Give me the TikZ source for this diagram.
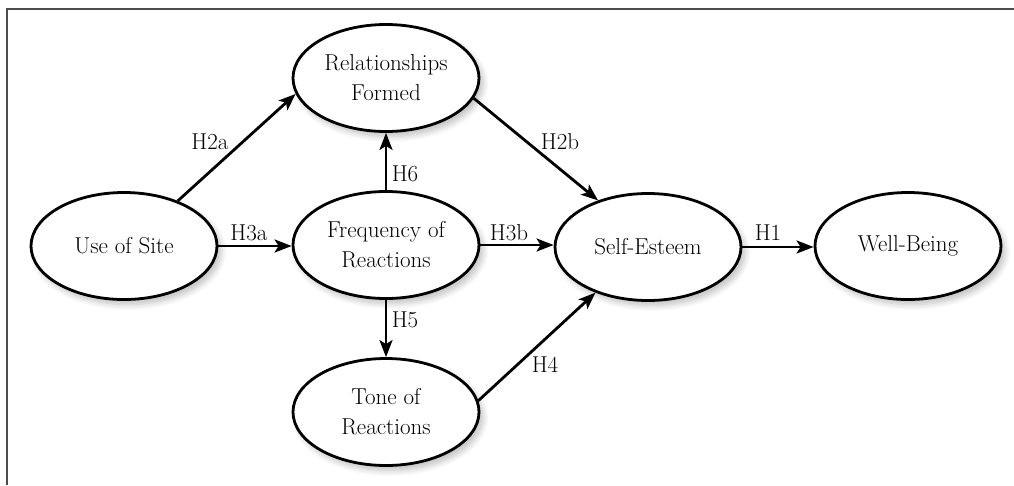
\documentclass[tikz,border=0pt]{standalone}
\usetikzlibrary{shapes.geometric,arrows.meta,shadows.blur}
\begin{document}
\begin{tikzpicture}[x=1pt,y=-1pt,
  construct/.style={ellipse,draw=black,line width=2.8pt,fill=white,
    minimum width=186pt,minimum height=107pt,inner sep=0pt,align=center,
    font=\fontsize{23}{30}\selectfont,
    blur shadow={shadow xshift=4pt,shadow yshift=-5pt,shadow blur steps=8,shadow blur radius=6pt,shadow opacity=25}},
  path/.style={line width=2.8pt,-{Stealth[length=17pt,width=13pt,inset=4pt]}},
  hlabel/.style={font=\fontsize{23}{26}\selectfont,inner sep=0pt}]
\useasboundingbox (0,0) rectangle (1014,485);
\draw[line width=2pt,black!70] (7,485) -- (7,9) -- (1014,9);

\node[construct] (use)  at (124,246) {Use of Site};
\node[construct] (rel)  at (386,78)  {Relationships\\Formed};
\node[construct] (freq) at (386,245) {Frequency of\\Reactions};
\node[construct] (tone) at (386,412) {Tone of\\Reactions};
\node[construct] (se)   at (648,247) {Self-Esteem};
\node[construct] (wb)   at (908,246) {Well-Being};

\draw[path] (use.40) -- (rel.190);
\draw[path] (freq.north) -- (rel.south);
\draw[path] (use.east) -- (use.east -| freq.west);
\draw[path] (freq.east) -- (freq.east -| se.west);
\draw[path] (se.east) -- (se.east -| wb.west);
\draw[path] (freq.south) -- (tone.north);
\draw[path] (rel.-13) -- (se.137);
\draw[path] (tone.7) -- (se.221);

\node[hlabel] (l2a) at (210,142) {H2a};
\node[hlabel] (l6)  at (405,174) {H6};
\node[hlabel] (l3a) at (249,233) {H3a};
\node[hlabel] (l3b) at (509,233) {H3b};
\node[hlabel] (l1)  at (768,233) {H1};
\node[hlabel] (l5)  at (405,320) {H5};
\node[hlabel] (l2b) at (560,142) {H2b};
\node[hlabel] (l4)  at (545,365) {H4};
\end{tikzpicture}
\end{document}
